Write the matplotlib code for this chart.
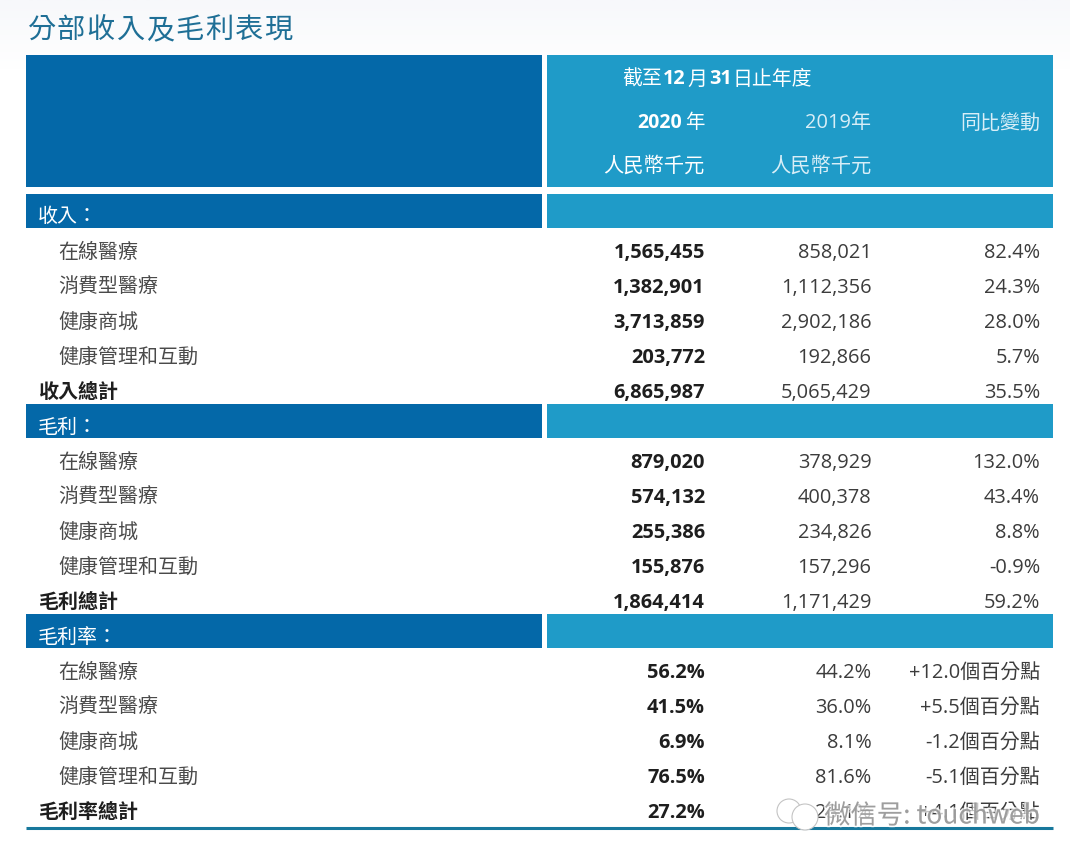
import matplotlib
matplotlib.use("Agg")
import matplotlib.pyplot as plt
import matplotlib.patheffects as pe
import numpy as np
from matplotlib.colors import LinearSegmentedColormap
from matplotlib.patches import Rectangle

W, H = 1070, 861
CJK = "Noto Sans CJK TC"
LATIN = ["Open Sans", CJK, "DejaVu Sans"]

title = "分部收入及毛利表現"
period_parts = [("截至", False), ("12", True), ("月", False), ("31", True), ("日止年度", False)]
col_2020 = "2020"
col_2019 = "2019年"
col_change = "同比變動"
unit = "人民幣千元"
year_char = "年"

segments = ["在線醫療", "消費型醫療", "健康商城", "健康管理和互動"]

section_labels = ["收入：", "毛利：", "毛利率："]
total_labels = ["收入總計", "毛利總計", "毛利率總計"]

rev_2020 = ["1,565,455", "1,382,901", "3,713,859", "203,772", "6,865,987"]
rev_2019 = ["858,021", "1,112,356", "2,902,186", "192,866", "5,065,429"]
rev_chg = ["82.4%", "24.3%", "28.0%", "5.7%", "35.5%"]

gp_2020 = ["879,020", "574,132", "255,386", "155,876", "1,864,414"]
gp_2019 = ["378,929", "400,378", "234,826", "157,296", "1,171,429"]
gp_chg = ["132.0%", "43.4%", "8.8%", "-0.9%", "59.2%"]

gm_2020 = ["56.2%", "41.5%", "6.9%", "76.5%", "27.2%"]
gm_2019 = ["44.2%", "36.0%", "8.1%", "81.6%", "23.1%"]
gm_chg = ["+12.0個百分點", "+5.5個百分點", "-1.2個百分點", "-5.1個百分點", "+4.1個百分點"]

sections = [(rev_2020, rev_2019, rev_chg), (gp_2020, gp_2019, gp_chg), (gm_2020, gm_2019, gm_chg)]

DARK = "#0468a8"
LIGHT = "#1f9bc8"
TEAL = "#17789c"
TITLE_C = "#1f6f96"
TXT = "#3c3c3c"
BOLD = "#1e1e1e"
FS = 14.4
DY = 4

fig = plt.figure(figsize=(W / 100, H / 100), dpi=100, facecolor="white")
ax = fig.add_axes([0, 0, 1, 1])
ax.axis("off")

# soft page tint behind the title
tint = LinearSegmentedColormap.from_list("tint", ["#f7f8fb", "#ffffff"])
ax.imshow(np.linspace(0, 1, 64)[:, None], cmap=tint, extent=(0, W, 70, 0), aspect="auto", zorder=0)
ax.set_xlim(0, W)
ax.set_ylim(H, 0)

L0, L1, R0, R1 = 26, 542, 547, 1053
C1, C2, C3 = 704.5, 871.5, 1040


def bands(top, bottom):
    ax.add_patch(Rectangle((L0, top), L1 - L0, bottom - top, color=DARK, lw=0, zorder=1))
    ax.add_patch(Rectangle((R0, top), R1 - R0, bottom - top, color=LIGHT, lw=0, zorder=1))


def t(x, y, s, ha="left", color=TXT, weight="normal", size=FS, family=None, **kw):
    return ax.text(x, y + DY, s, ha=ha, va="center", color=color, fontweight=weight,
                   fontsize=size, family=family or LATIN, zorder=3, **kw)


# title: spaced characters
for i, ch in enumerate(title):
    t(27 + i * 29.7, 26, ch, color=TITLE_C, size=20.3, family=[CJK])

# header
bands(55, 187)
x = 622
for s, b in period_parts:
    txt = t(x, 75.5, s, color="white", weight="bold" if b else "normal",
            family=["Open Sans"] if b else [CJK], size=14.3)
    fig.canvas.draw()
    x = txt.get_window_extent().x1 + 1.5

t(682, 119.5, col_2020, ha="right", color="white", weight="bold", family=["Open Sans"], size=14)
t(704.5, 119, year_char, ha="right", color="white", family=[CJK], size=14)
t(C2, 119, col_2019, ha="right", color="#d8eef7", size=14.4)
t(C3, 119, col_change, ha="right", color="#d8eef7", family=[CJK], size=14.4)
t(C1, 162, unit, ha="right", color="white", family=[CJK], size=14.6)
t(C2, 162, unit, ha="right", color="#d8eef7", family=[CJK], size=14.6)

# body
ROW = 35
for si, (label, total, (a, b, c)) in enumerate(zip(section_labels, total_labels, sections)):
    base = si * 6
    top = 194 + base * ROW
    bands(top, top + 34)
    t(38, 213 + base * ROW, label, color="white", family=[CJK], size=14.4)
    names = segments + [total]
    for ri, name in enumerate(names):
        y = 249 + (base + ri) * ROW
        is_total = ri == len(segments)
        t(38.5 if is_total else 58.5, y - (2 if is_total else 1), name, family=[CJK], size=14.4,
          color=BOLD if is_total else "#4a4a4a", weight="bold" if is_total else "normal")
        t(C1 + 0.5, y, a[ri], ha="right", color=BOLD, weight="bold")
        t(C2, y, b[ri], ha="right")
        t(C3, y, c[ri], ha="right")

# closing rule
ax.plot([L0, R1], [828, 828], color=TEAL, lw=2.2, solid_capstyle="butt", zorder=2)

# watermark
for cx, cy, r in [(789, 811, 12), (805, 817, 13)]:
    ax.add_patch(plt.Circle((cx, cy), r, fc="white", ec="#c4c4c4", lw=0.8, zorder=4))
ax.text(824, 816, "微信号: touchweb", ha="left", va="center", fontsize=19,
        family=[CJK, "DejaVu Sans"], color="#8c8c8c", alpha=0.8, zorder=5,
        path_effects=[pe.withStroke(linewidth=2.5, foreground="white", alpha=0.7)])

fig.savefig("out.png", dpi=100, facecolor="white")
